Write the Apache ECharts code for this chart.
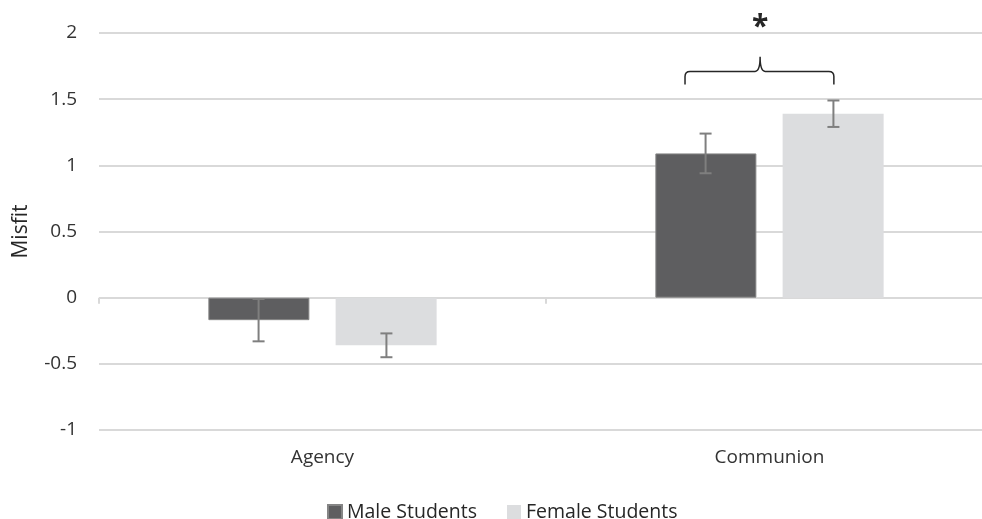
<!DOCTYPE html>
<html>
<head>
<meta charset="utf-8">
<script src="https://cdn.jsdelivr.net/npm/echarts@6/dist/echarts.min.js"></script>
<style>
  html, body { margin: 0; padding: 0; background: #fff; }
  #chart { width: 982px; height: 519px; }
</style>
</head>
<body>
<div id="chart"></div>
<script>
const categories = ["Agency", "Communion"];
const maleValues = [-0.17, 1.09];
const maleErrors = [0.16, 0.15];
const femaleValues = [-0.36, 1.39];
const femaleErrors = [0.09, 0.10];
const yTicks = [-1, -0.5, 0, 0.5, 1, 1.5, 2];
// bracket over Communion: [category index, tip y, line y, peak y]
const bracket = [[1, 1.61, 1.71, 1.82]];

const font = "'Open Sans', Lato, sans-serif";
const chart = echarts.init(document.getElementById("chart"));

// error bar drawn as custom series, offset to the bar's position in the band
function errorSeries(name, values, errors, offset) {
  return {
    type: "custom",
    name: name + " err",
    z: 5,
    data: values.map((v, i) => [i, v - errors[i], v + errors[i]]),
    renderItem(params, api) {
      const band = api.size([1, 0])[0];
      const lo = api.coord([api.value(0), api.value(1)]);
      const hi = api.coord([api.value(0), api.value(2)]);
      const x = lo[0] + offset * band;
      const cap = 6;
      const style = { stroke: "#7f7f7f", lineWidth: 2 };
      return {
        type: "group",
        children: [
          { type: "line", shape: { x1: x, y1: hi[1], x2: x, y2: lo[1] }, style },
          { type: "line", shape: { x1: x - cap, y1: hi[1], x2: x + cap, y2: hi[1] }, style },
          { type: "line", shape: { x1: x - cap, y1: lo[1], x2: x + cap, y2: lo[1] }, style }
        ]
      };
    }
  };
}

const option = {
  animation: false,
  grid: { left: 99, width: 894, top: 33, bottom: 89, outerBoundsMode: "none" },
  legend: {
    top: 497,
    left: 322,
    itemWidth: 14,
    itemHeight: 14,
    itemGap: 30,
    icon: "rect",
    textStyle: { fontFamily: font, fontSize: 19.5, color: "#262626" },
    data: ["Male Students", "Female Students"]
  },
  xAxis: {
    type: "category",
    data: categories,
    position: "bottom",
    axisLine: { show: false },
    axisTick: { show: false },
    axisLabel: { fontFamily: font, fontSize: 19, color: "#333333", margin: 18 }
  },
  yAxis: {
    type: "value",
    min: -1,
    max: 2,
    interval: 0.5,
    name: "Misfit",
    nameLocation: "middle",
    nameGap: 67,
    nameTextStyle: { fontFamily: font, fontSize: 21, color: "#262626" },
    axisLine: { show: false },
    axisTick: { show: false },
    axisLabel: {
      fontFamily: font, fontSize: 19, color: "#333333", margin: 22,
      formatter: (v) => (yTicks.includes(v) ? String(v) : "")
    },
    splitLine: { lineStyle: { color: "#d9d9d9", width: 2 } }
  },
  series: [
    {
      name: "Male Students",
      type: "bar",
      data: maleValues,
      barWidth: 101,
      barGap: "26%",
      itemStyle: { color: "#5e5e60", borderColor: "#858585", borderWidth: 1 }
    },
    {
      name: "Female Students",
      type: "bar",
      data: femaleValues,
      barWidth: 101,
      itemStyle: { color: "#dcdddf" }
    },
    errorSeries("Male Students", maleValues, maleErrors, -0.143),
    errorSeries("Female Students", femaleValues, femaleErrors, 0.143),
    {
      // category divider tick on the zero line
      type: "custom",
      name: "ticks",
      silent: true,
      data: [[0], [1]],
      renderItem(params, api) {
        const band = api.size([1, 0])[0];
        const p = api.coord([api.value(0), 0]);
        const x = p[0] - band / 2;
        return {
          type: "line",
          shape: { x1: x, y1: p[1], x2: x, y2: p[1] + 6 },
          style: { stroke: "#d9d9d9", lineWidth: 2 }
        };
      }
    },
    {
      type: "custom",
      name: "bracket",
      silent: true,
      clip: false,
      data: bracket,
      renderItem(params, api) {
        const band = api.size([1, 0])[0];
        const c = api.coord([api.value(0), api.value(2)]);
        const tip = api.coord([api.value(0), api.value(1)])[1];
        const peak = api.coord([api.value(0), api.value(3)])[1];
        const y = c[1];
        const x1 = c[0] - 0.189 * band;
        const x2 = c[0] + 0.144 * band;
        const xm = c[0] - 0.021 * band;
        const r = 5;
        const d = "M" + x1 + "," + tip +
          " L" + x1 + "," + (y + r) +
          " Q" + x1 + "," + y + " " + (x1 + r) + "," + y +
          " L" + (xm - r) + "," + y +
          " Q" + xm + "," + y + " " + xm + "," + peak +
          " Q" + xm + "," + y + " " + (xm + r) + "," + y +
          " L" + (x2 - r) + "," + y +
          " Q" + x2 + "," + y + " " + x2 + "," + (y + r) +
          " L" + x2 + "," + tip;
        return {
          type: "group",
          children: [
            {
              type: "path",
              shape: { pathData: d },
              style: { stroke: "#262626", lineWidth: 1.5, fill: null }
            },
            {
              type: "text",
              x: xm,
              y: peak - 44,
              style: {
                text: "*",
                fontFamily: font,
                fontSize: 30,
                fontWeight: "bold",
                fill: "#262626",
                align: "center",
                verticalAlign: "top"
              }
            }
          ]
        };
      }
    }
  ]
};

option && chart.setOption(option);
</script>
</body>
</html>
